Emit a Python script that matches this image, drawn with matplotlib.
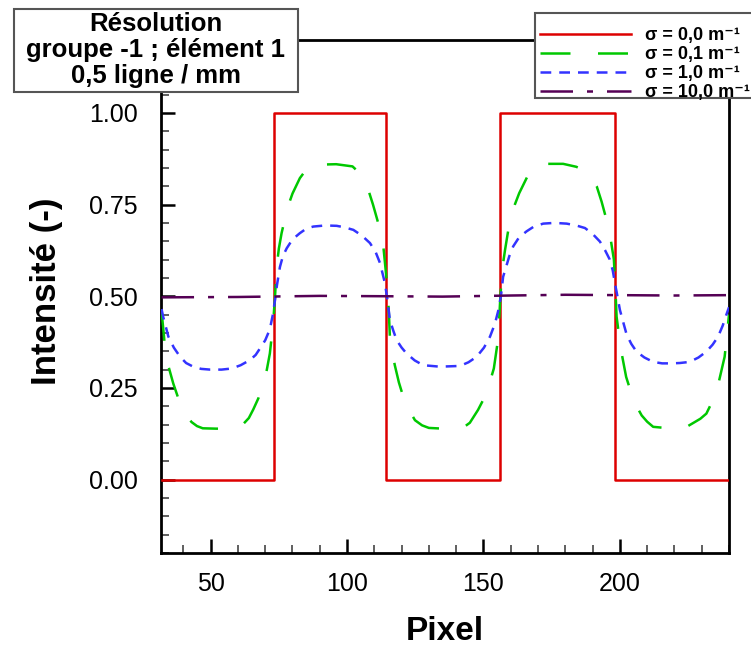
import matplotlib
matplotlib.use("Agg")
import matplotlib.pyplot as plt
from matplotlib.patches import Rectangle
from matplotlib.ticker import MultipleLocator, FormatStrFormatter

plt.rcParams['font.family'] = ['Liberation Sans', 'DejaVu Sans']

# ---------------- data ----------------
red_x = [32, 73.2, 73.2, 114.3, 114.3, 156.0, 156.0, 198.2, 198.2, 240]
red_y = [0, 0, 1, 1, 0, 0, 1, 1, 0, 0]

green_x = [32.0, 32.9, 33.3, 34.5, 36.3, 38.0, 39.4, 41.0, 43.0, 45.0, 47.1, 52.0, 57.7, 60.0,
           62.0, 64.0, 65.6, 67.5, 69.3, 70.6, 71.7, 72.9, 73.6, 74.2, 75.0, 76.0, 78.1, 80.0,
           82.7, 85.0, 87.0, 90.7, 96.0, 102.0, 104.0, 106.0, 107.8, 109.5, 111.1, 112.7, 113.3,
           114.5, 115.1, 115.7, 116.5, 117.5, 119.0, 120.6, 122.7, 124.9, 127.5, 130.0, 135.3,
           142.6, 145.0, 148.0, 150.5, 152.3, 153.8, 155.4, 156.2, 157.0, 157.9, 159.7, 161.5,
           163.1, 166.0, 168.8, 170.7, 179.2, 184.0, 187.0, 189.0, 191.5, 193.3, 196.1, 197.8,
           198.3, 198.8, 200.3, 202.3, 204.0, 205.9, 208.0, 210.0, 212.2, 218.0, 223.8, 227.0,
           229.5, 231.7, 234.0, 236.0, 238.4, 239.6, 240.0]
green_y = [0.46, 0.39, 0.355, 0.31, 0.262, 0.225, 0.198, 0.175, 0.157, 0.146, 0.14, 0.139, 0.139, 0.142,
           0.152, 0.168, 0.191, 0.222, 0.262, 0.30, 0.344, 0.426, 0.50, 0.58, 0.63, 0.672, 0.74, 0.78,
           0.822, 0.845, 0.857, 0.859, 0.86, 0.854, 0.84, 0.82, 0.79, 0.75, 0.708, 0.66, 0.636,
           0.545, 0.49, 0.39, 0.35, 0.312, 0.265, 0.226, 0.19, 0.162, 0.148, 0.141, 0.139,
           0.142, 0.155, 0.19, 0.226, 0.265, 0.303, 0.385, 0.50, 0.58, 0.626, 0.708, 0.75,
           0.781, 0.825, 0.852, 0.861, 0.861, 0.853, 0.843, 0.831, 0.80, 0.758, 0.681, 0.60,
           0.53, 0.444, 0.358, 0.28, 0.24, 0.203, 0.175, 0.158, 0.144, 0.14, 0.141, 0.155,
           0.166, 0.18, 0.215, 0.258, 0.335, 0.42, 0.45]

blue_x = [32.0, 32.6, 34.5, 36.5, 38.8, 41.0, 43.6, 46.5, 49.8, 54.0, 57.7, 61.0, 64.4, 66.5,
          68.1, 70.0, 71.7, 72.8, 73.6, 74.3, 75.4, 76.5, 77.9, 80.0, 82.7, 85.0, 87.6, 92.0,
          96.2, 99.0, 102.3, 105.5, 108.4, 110.5, 112.1, 113.9, 114.8, 115.7, 117.0, 118.2,
          120.0, 121.8, 124.8, 127.9, 134.0, 141.4, 144.5, 147.5, 150.2, 152.4, 154.2, 155.4,
          156.4, 157.2, 157.9, 159.5, 160.9, 163.0, 165.8, 168.5, 171.9, 176.0, 180.5, 184.0,
          187.2, 190.0, 192.7, 194.6, 196.3, 197.4, 198.2, 199.1, 200.0, 201.2, 202.5, 204.2,
          206.1, 209.0, 212.2, 215.5, 218.9, 222.0, 225.6, 228.8, 231.7, 234.0, 236.0, 237.7,
          239.0, 240.0]
blue_y = [0.465, 0.444, 0.39, 0.36, 0.335, 0.318, 0.308, 0.302, 0.30, 0.30, 0.303, 0.312, 0.326, 0.34,
          0.358, 0.38, 0.41, 0.45, 0.49, 0.53, 0.58, 0.61, 0.631, 0.655, 0.672, 0.684, 0.69, 0.693,
          0.692, 0.688, 0.681, 0.665, 0.645, 0.62, 0.59, 0.535, 0.49, 0.435, 0.405, 0.38,
          0.36, 0.344, 0.325, 0.312, 0.308, 0.31, 0.32, 0.335, 0.36, 0.39, 0.425, 0.46,
          0.50, 0.553, 0.57, 0.61, 0.636, 0.66, 0.677, 0.69, 0.698, 0.70, 0.698, 0.693,
          0.686, 0.67, 0.649, 0.625, 0.60, 0.57, 0.535, 0.50, 0.463, 0.43, 0.395, 0.37,
          0.349, 0.333, 0.321, 0.317, 0.317, 0.318, 0.321, 0.333, 0.349, 0.368, 0.39, 0.42,
          0.449, 0.47]

purple_x = [32, 60, 90, 115, 135, 160, 180, 200, 220, 240]
purple_y = [0.497, 0.498, 0.501, 0.500, 0.499, 0.502, 0.504, 0.503, 0.502, 0.503]

labels = ["σ = 0,0 m⁻¹", "σ = 0,1 m⁻¹", "σ = 1,0 m⁻¹", "σ = 10,0 m⁻¹"]
title_text = "Résolution\ngroupe -1 ; élément 1\n0,5 ligne / mm"
xlabel = "Pixel"
ylabel = "Intensité (-)"

# ---------------- figure ----------------
W, H = 751, 646
fig = plt.figure(figsize=(W / 100, H / 100), dpi=100)
ax = fig.add_axes([161 / W, 1 - 553 / H, (729 - 161) / W, (553 - 39.5) / H])

lw = 1.8
l1, = ax.plot(red_x, red_y, color='#dd0000', lw=lw, zorder=3)
l2, = ax.plot(green_x, green_y, color='#00c800', lw=lw, ls=(0, (12, 11)), zorder=4)
l3, = ax.plot(blue_x, blue_y, color='#3333ff', lw=lw, ls=(0, (4.3, 3.2)), zorder=5)
l4, = ax.plot(purple_x, purple_y, color='#550055', lw=lw, ls=(0, (13, 5.6, 2.4, 5.6)), zorder=6)

ax.set_xlim(31.8, 240)
ax.set_ylim(-0.2, 1.2)
ax.set_yticks([0.0, 0.25, 0.5, 0.75, 1.0])
ax.yaxis.set_major_formatter(FormatStrFormatter('%.2f'))
ax.yaxis.set_minor_locator(MultipleLocator(0.05))
ax.set_xticks([50, 100, 150, 200])
ax.xaxis.set_minor_locator(MultipleLocator(10))

for s in ax.spines.values():
    s.set_linewidth(2.0)
ax.tick_params(which='major', direction='in', length=10, width=1.8, labelsize=18,
               top=False, right=False)
ax.tick_params(which='minor', direction='in', length=6, width=1.2, color='#444444',
               top=False, right=False)
ax.tick_params(axis='x', which='major', pad=14)
ax.tick_params(axis='y', which='major', pad=17)

ax.set_xlabel(xlabel, fontsize=24, fontweight='bold', labelpad=14)
ax.set_ylabel(ylabel, fontsize=25, fontweight='bold')
ax.yaxis.set_label_coords(-0.172, 0.51)

# legend box (frame drawn separately)
fig.patches.append(Rectangle((535 / W, 1 - 98 / H), (760 - 535) / W, (98 - 13) / H,
                             transform=fig.transFigure, facecolor='white',
                             edgecolor='#555555', lw=1.5, zorder=4))
leg = fig.legend([l1, l2, l3, l4], labels, loc='upper left',
                 bbox_to_anchor=(535 / W, 1 - 22 / H), frameon=False,
                 borderaxespad=0, borderpad=0.3,
                 handlelength=5.0, handletextpad=0.8, labelspacing=0.1,
                 prop={'size': 13, 'weight': 'bold'})
leg.set_zorder(5)

# title box
fig.patches.append(Rectangle((14 / W, 1 - 92.3 / H), (298 - 14) / W, (92.3 - 9.3) / H,
                             transform=fig.transFigure, facecolor='white',
                             edgecolor='#555555', lw=1.5, zorder=10))
fig.text(156 / W, 1 - 50 / H, title_text, ha='center', va='center', ma='center',
         fontsize=18.5, fontweight='bold', linespacing=1.1, zorder=11)

fig.savefig('out.png', dpi=100)
